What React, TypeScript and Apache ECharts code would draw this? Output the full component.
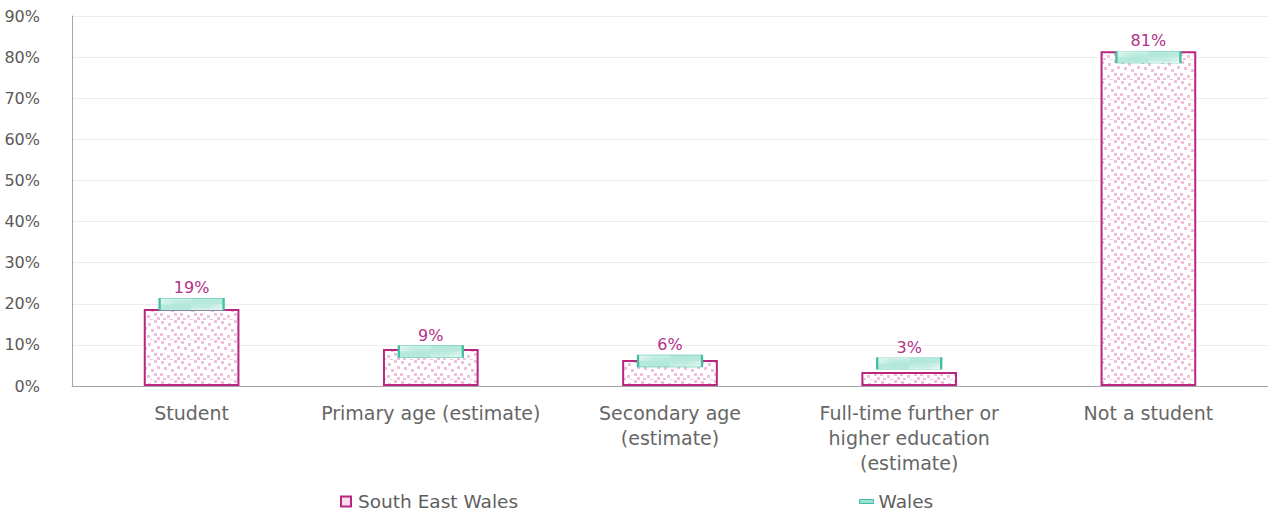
import React, { useEffect, useRef } from "react";
import * as echarts from "echarts";

const categories = [
  "Student",
  "Primary age (estimate)",
  "Secondary age\n(estimate)",
  "Full-time further or\nhigher education\n(estimate)",
  "Not a student",
];
const southEastWales = [18.7, 9.0, 6.3, 3.4, 81.4];
const wales = [19.9, 8.4, 6.1, 5.5, 80.0];
const seriesNames = ["South East Wales", "Wales"];

const MAGENTA = "#B8267F";
const TEAL = "#3FBFA3";
const FONT = "DejaVu Sans";

function dotPattern(): HTMLCanvasElement {
  const c = document.createElement("canvas");
  c.width = 20;
  c.height = 20;
  const ctx = c.getContext("2d")!;
  ctx.fillStyle = "#ffffff";
  ctx.fillRect(0, 0, 20, 20);
  ctx.fillStyle = "#F0BFDA";
  const pts = [
    [1, 1], [8, 3], [14, 0], [4, 7], [11, 9], [17, 6],
    [0, 13], [7, 15], [14, 13], [3, 18], [17, 17], [10, 19],
  ];
  pts.forEach(([x, y]) => ctx.fillRect(x, y, 3, 3));
  return c;
}

function hatchPattern(): HTMLCanvasElement {
  const c = document.createElement("canvas");
  c.width = 8;
  c.height = 8;
  const ctx = c.getContext("2d")!;
  ctx.fillStyle = "#ffffff";
  ctx.fillRect(0, 0, 8, 8);
  ctx.strokeStyle = "#B3E8DA";
  ctx.lineWidth = 2;
  ctx.beginPath();
  ctx.moveTo(-2, 10);
  ctx.lineTo(10, -2);
  ctx.moveTo(-6, 6);
  ctx.lineTo(6, -6);
  ctx.moveTo(2, 14);
  ctx.lineTo(14, 2);
  ctx.stroke();
  return c;
}

export default function App() {
  const ref = useRef<HTMLDivElement>(null);
  useEffect(() => {
    document.body.style.margin = "0";
    if (!ref.current) return;
    const chart = echarts.init(ref.current, undefined, { renderer: "svg" });
    const dots = { image: dotPattern(), repeat: "repeat" } as any;
    const hatch = { image: hatchPattern(), repeat: "repeat" } as any;
    chart.setOption({
      animation: false,
      textStyle: { fontFamily: FONT },
      grid: { left: 72, right: 0, top: 16, bottom: 130, containLabel: false },
      legend: {
        bottom: 0,
        left: 335,
        itemGap: 341,
        itemWidth: 14,
        itemHeight: 10,
        textStyle: { fontSize: 18.5, color: "#5f5f5f", fontFamily: FONT },
        data: [
          { name: seriesNames[0], icon: "path://M0,0h10v10h-10z", itemStyle: { color: "#F7DCEB", borderColor: MAGENTA, borderWidth: 2 } },
          { name: seriesNames[1], icon: "path://M0,0h14v4h-14z", itemStyle: { color: "#9FE0CF", borderColor: TEAL, borderWidth: 1 } },
        ],
      },
      xAxis: {
        type: "category",
        data: categories,
        axisTick: { show: false },
        axisLine: { lineStyle: { color: "#A6A6A6", width: 1 } },
        axisLabel: { color: "#666666", fontSize: 19, lineHeight: 25, margin: 14, interval: 0 },
      },
      yAxis: {
        type: "value",
        min: 0,
        max: 90,
        interval: 10,
        axisLine: { show: true, lineStyle: { color: "#A6A6A6" } },
        axisLabel: { color: "#595959", fontSize: 16, margin: 32, formatter: "{value}%" },
        splitLine: { lineStyle: { color: "#EDEDED" } },
      },
      series: [
        {
          name: seriesNames[0],
          type: "bar",
          data: southEastWales,
          barWidth: "40%",
          itemStyle: { color: dots, borderColor: MAGENTA, borderWidth: 2 },
          z: 2,
        },
        {
          name: seriesNames[1],
          type: "scatter",
          data: wales,
          symbol: "rect",
          symbolSize: [64, 12],
          itemStyle: { color: hatch, borderColor: TEAL, borderWidth: 1, opacity: 1 },
          label: {
            show: true,
            position: "top",
            distance: 2,
            color: "#B5308A",
            fontSize: 16,
            fontFamily: FONT,
            formatter: (p: any) => Math.round(southEastWales[p.dataIndex]) + "%",
          },
          z: 3,
        },
      ],
    });
    return () => chart.dispose();
  }, []);
  return <div ref={ref} style={{ width: 1268, height: 516 }} />;
}
